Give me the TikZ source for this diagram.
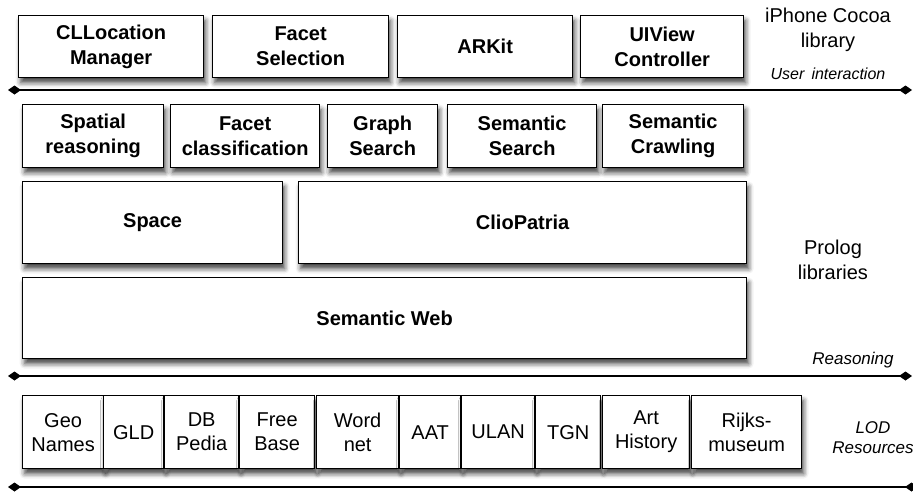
\documentclass[tikz,border=0pt]{standalone}
\usepackage{fontspec}
\setmainfont{Liberation Sans}
\usetikzlibrary{arrows.meta,shadows.blur}
\begin{document}
\begin{tikzpicture}[x=1pt,y=-1pt,
  box/.style={draw=black, line width=1.3pt, fill=white, inner sep=0pt, align=center,
    anchor=north west,
    blur shadow={shadow xshift=2pt, shadow yshift=-5pt, shadow blur radius=5pt, shadow opacity=75},
    font=\fontsize{20}{24}\selectfont},
  bbox/.style={box, font=\fontsize{20}{25}\selectfont\bfseries},
  lbl/.style={align=center, inner sep=0pt, font=\fontsize{20}{25}\selectfont},
  ilbl/.style={align=center, inner sep=0pt, font=\fontsize{17}{20}\selectfont\itshape},
  layer/.style={line width=1.3pt, {Diamond[length=13pt,width=9pt]}-{Diamond[length=13pt,width=9pt]}}
]
\useasboundingbox (0,0) rectangle (913,491);
% top row
\node[bbox, minimum width=185pt, minimum height=62pt] (loc) at (18,15) {CLLocation\\Manager};
\node[bbox, minimum width=176pt, minimum height=62pt] (fsel) at (212,15) {Facet\\Selection};
\node[bbox, minimum width=175pt, minimum height=62pt] (arkit) at (397,15) {ARKit};
\node[bbox, minimum width=163pt, minimum height=62pt] (uiview) at (580,15) {UIView\\Controller};
\node[lbl] (cocoa) at (828,30) {iPhone Cocoa\\library};
\node[ilbl, font=\fontsize{16}{20}\selectfont\itshape] (user) at (828,74) {User\, interaction};
\coordinate (l1a) at (8,90);
\coordinate (l1b) at (912,90);
\draw[layer] (l1a) -- (l1b);
% row 2
\node[bbox, minimum width=141pt, minimum height=63pt] (spatial) at (22,104) {Spatial\\reasoning};
\node[bbox, minimum width=149pt, minimum height=63pt] (facetc) at (170,104) {Facet\\classification};
\node[bbox, minimum width=110pt, minimum height=63pt] (graph) at (327,104) {Graph\\Search};
\node[bbox, minimum width=149pt, minimum height=63pt] (semsearch) at (447,104) {Semantic\\Search};
\node[bbox, minimum width=141pt, minimum height=63pt] (semcrawl) at (602,104) {Semantic\\Crawling};
% row 3
\node[bbox, minimum width=260pt, minimum height=82pt] (space) at (22,181) {Space};
\node[bbox, minimum width=448pt, minimum height=82pt] (clio) at (298,181) {ClioPatria};
% row 4
\node[bbox, minimum width=724pt, minimum height=81pt] (semweb) at (22,277) {Semantic Web};
\node[lbl] (prolog) at (833,260) {Prolog\\libraries};
\node[ilbl] (reason) at (853,360) {Reasoning};
\coordinate (l2a) at (8,376);
\coordinate (l2b) at (912,376);
\draw[layer] (l2a) -- (l2b);
% row 5
\node[box, minimum width=81pt, minimum height=73pt] (geo) at (22,395) {Geo\\Names};
\node[box, minimum width=60pt, minimum height=73pt] (gld) at (103,395) {GLD};
\node[box, minimum width=74pt, minimum height=73pt] (dbp) at (164,395) {DB\\Pedia};
\node[box, minimum width=75pt, minimum height=73pt] (free) at (239,395) {Free\\Base};
\node[box, minimum width=82pt, minimum height=73pt] (word) at (316,395) {Word\\net};
\node[box, minimum width=61pt, minimum height=73pt] (aat) at (399,395) {AAT};
\node[box, minimum width=73pt, minimum height=73pt] (ulan) at (461,395) {ULAN};
\node[box, minimum width=65pt, minimum height=73pt] (tgn) at (535,395) {TGN};
\node[box, minimum width=87pt, minimum height=73pt] (art) at (602,395) {Art\\History};
\node[box, minimum width=110pt, minimum height=73pt] (rijks) at (691,395) {Rijks-\\museum};
\node[ilbl] (lod) at (873,438) {LOD\\Resources};
\coordinate (l3a) at (8,487);
\coordinate (l3b) at (918,487);
\draw[layer] (l3a) -- (l3b);
\end{tikzpicture}
\end{document}
